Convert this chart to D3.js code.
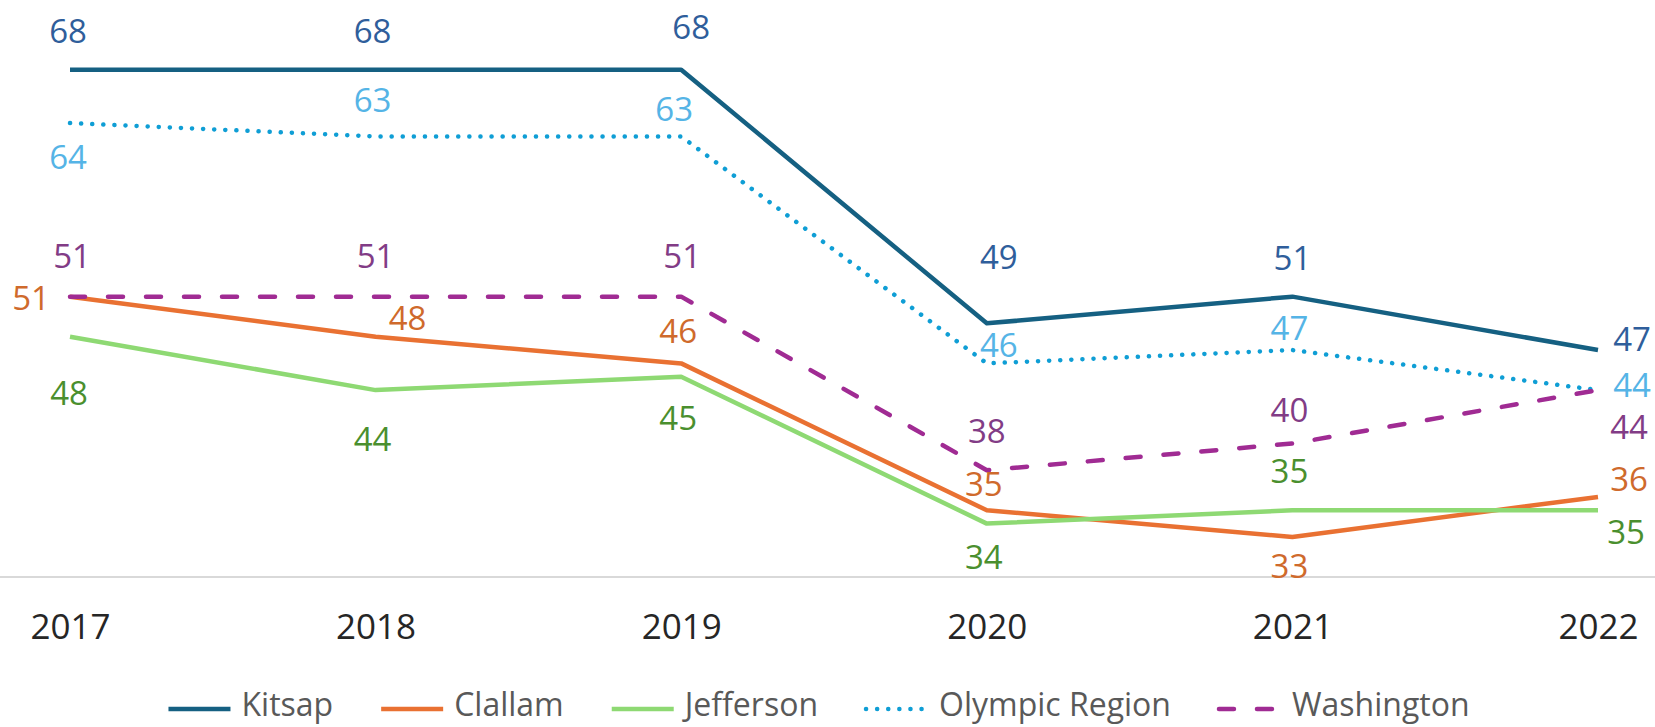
<!DOCTYPE html>
<html>
<head>
<meta charset="utf-8">
<script src="https://cdn.jsdelivr.net/npm/d3@7"></script>
<style>
  html, body { margin: 0; padding: 0; background: #fff; }
  svg { display: block; }
</style>
</head>
<body>
<svg id="chart" width="1655" height="727"></svg>
<script>
// chart data
const years = ['2017', '2018', '2019', '2020', '2021', '2022'];
const kitsap = [68, 68, 68, 49, 51, 47];
const clallam = [51, 48, 46, 35, 33, 36];
const jefferson = [48, 44, 45, 34, 35, 35];
const olympic = [64, 63, 63, 46, 47, 44];
const washington = [51, 51, 51, 38, 40, 44];

const series = [
  {name: 'Kitsap', values: kitsap, color: '#156082', labelColor: '#2F5E9B', dash: null},
  {name: 'Clallam', values: clallam, color: '#E97132', labelColor: '#CF6A2C', dash: null},
  {name: 'Jefferson', values: jefferson, color: '#8ED973', labelColor: '#4A8F2E', dash: null},
  {name: 'Olympic Region', values: olympic, color: '#0F9ED5', labelColor: '#55B4E6', dash: '0.1 11', cap: 'round'},
  {name: 'Washington', values: washington, color: '#A02B93', labelColor: '#823C86', dash: '15 23', cap: 'round'}
];

// where each data label sits relative to its point (dx, dy of text centre)
const labelOffsets = {
  'Kitsap':         [[-2, -39], [-3, -39], [10, -43], [12, -66], [0, -39], [34, -11]],
  'Clallam':        [[-39, 1], [32, -19], [-3, -32], [-3, -26], [-3, 29], [31, -18]],
  'Jefferson':      [[-1, 56], [-3, 49], [-3, 41], [-3, 34], [-3, -39], [28, 22]],
  'Olympic Region': [[-2, 34], [-3, -36], [-7, -27], [12, -18], [-3, -22], [34, -5]],
  'Washington':     [[2, -41], [0, -41], [1, -41], [0, -39], [-3, -33], [31, 37]]
};

const svg = d3.select('#chart'),
  width = +svg.attr('width'),
  height = +svg.attr('height');

const font = '"Open Sans", "Liberation Sans", sans-serif';

const x = d3.scalePoint()
  .domain(years)
  .range([70, 1598]);

const y = d3.scaleLinear()
  .domain([30, 70])
  .range([577, 43]);

// baseline
svg.append('line')
  .attr('x1', 0)
  .attr('x2', width)
  .attr('y1', y(30))
  .attr('y2', y(30))
  .attr('stroke', '#D9D9D9')
  .attr('stroke-width', 2);

// category axis labels
const xAxis = svg.append('g')
  .attr('transform', `translate(0,${y(30)})`)
  .call(d3.axisBottom(x).tickSize(0).tickPadding(62));
xAxis.select('.domain').remove();
xAxis.selectAll('text')
  .attr('dy', 0)
  .style('font-family', font)
  .style('font-size', '35px')
  .attr('fill', '#262626');

const line = d3.line()
  .x((d, i) => x(years[i]))
  .y(d => y(d));

svg.selectAll('.series')
  .data(series)
  .enter()
  .append('path')
  .attr('class', 'series')
  .attr('d', s => line(s.values))
  .attr('fill', 'none')
  .attr('stroke', s => s.color)
  .attr('stroke-width', 4.5)
  .attr('stroke-linejoin', 'round')
  .attr('stroke-linecap', s => s.cap || 'butt')
  .attr('stroke-dasharray', s => s.dash);

// data labels
const labelSize = 33;
series.forEach(s => {
  svg.append('g')
    .selectAll('text')
    .data(s.values)
    .enter()
    .append('text')
    .attr('x', (d, i) => x(years[i]) + labelOffsets[s.name][i][0])
    .attr('y', (d, i) => y(d) + labelOffsets[s.name][i][1] + labelSize * 0.36)
    .attr('text-anchor', 'middle')
    .style('font-family', font)
    .style('font-size', labelSize + 'px')
    .attr('fill', s.labelColor)
    .text(d => d);
});

// legend
const legend = svg.append('g');
const items = legend.selectAll('g')
  .data(series)
  .enter()
  .append('g');

items.append('line')
  .attr('x1', 0)
  .attr('x2', 62)
  .attr('y1', 0)
  .attr('y2', 0)
  .attr('stroke', s => s.color)
  .attr('stroke-width', 4.5)
  .attr('stroke-linecap', s => s.cap || 'butt')
  .attr('stroke-dasharray', s => s.dash);

items.append('text')
  .attr('x', 73)
  .attr('y', 7)
  .style('font-family', font)
  .style('font-size', '32px')
  .attr('fill', '#595959')
  .text(s => s.name);

let cursor = 0;
items.each(function() {
  const g = d3.select(this);
  g.attr('transform', `translate(${cursor},0)`);
  cursor += 73 + g.select('text').node().getComputedTextLength() + 48;
});
const legendWidth = cursor - 48;
legend.attr('transform', `translate(${819 - legendWidth / 2},709)`);
</script>
</body>
</html>
